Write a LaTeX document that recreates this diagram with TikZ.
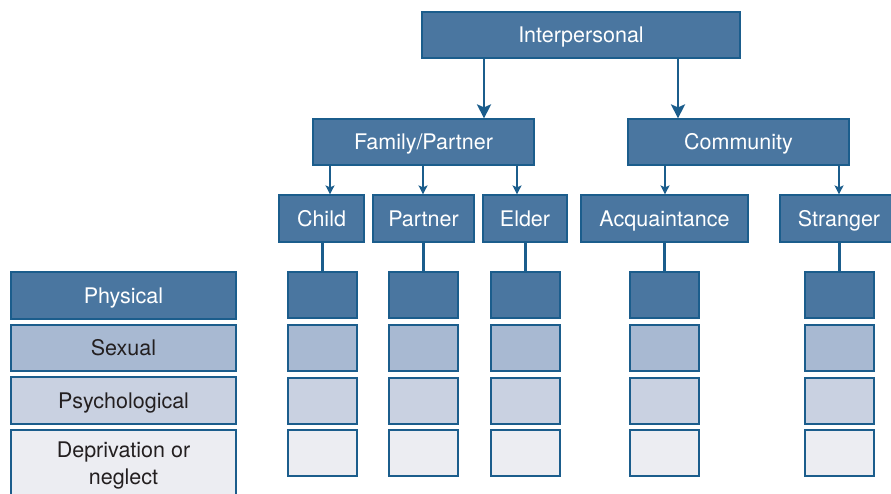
\documentclass[tikz,border=0pt]{standalone}
\usepackage{fontspec}
\setmainfont{TeX Gyre Heros}
\usetikzlibrary{arrows.meta}
\definecolor{bdark}{HTML}{4A76A0}
\definecolor{bmid}{HTML}{A8B9D2}
\definecolor{blight}{HTML}{C9D1E1}
\definecolor{bpale}{HTML}{ECEDF2}
\definecolor{bline}{HTML}{1B5D8C}
\definecolor{txtdark}{HTML}{231F20}
\tikzset{
  box/.style={draw=bline, line width=1.2pt, inner sep=0pt, align=center,
    font=\fontsize{21.5}{27}\selectfont},
  one/.style={text height=15.5pt, text depth=0.5pt},
  darkbox/.style={box, fill=bdark, text=white},
  midbox/.style={box, fill=bmid, text=txtdark},
  lightbox/.style={box, fill=blight, text=txtdark},
  palebox/.style={box, fill=bpale, text=txtdark},
  bigarr/.style={draw=bline, line width=2.6pt, -{Stealth[width=14pt,length=14pt,inset=3pt]}},
  smallarr/.style={draw=bline, line width=1.5pt, -{Stealth[width=9pt,length=9pt,inset=2pt]}},
  link/.style={draw=bline, line width=2.5pt},
}
\begin{document}
\begin{tikzpicture}[x=1pt,y=-1pt]
\useasboundingbox (0,0) rectangle (891,493);
\clip (0,0) rectangle (891,493);
% top levels
\node[darkbox, one, minimum width=318pt, minimum height=46pt] (inter) at (581,35) {Interpersonal};
\node[darkbox, one, minimum width=221pt, minimum height=46pt] (fam) at (423.5,142) {Family/Partner};
\node[darkbox, one, minimum width=221pt, minimum height=46pt] (com) at (738.5,142) {Community};
% third level
\node[darkbox, one, minimum width=85pt, minimum height=47pt] (child) at (321.5,218.5) {Child};
\node[darkbox, one, minimum width=101pt, minimum height=47pt] (partner) at (423.5,218.5) {Partner};
\node[darkbox, one, minimum width=84pt, minimum height=47pt] (elder) at (525,218.5) {Elder};
\node[darkbox, one, minimum width=167pt, minimum height=47pt] (acq) at (664.5,218.5) {Acquaintance};
\node[darkbox, one, minimum width=118pt, minimum height=47pt] (stranger) at (839,218.5) {Stranger};
% left labels
\node[darkbox, one, minimum width=225pt, minimum height=47pt] (lphys) at (123.5,295.5) {Physical};
\node[midbox, one, minimum width=225pt, minimum height=46pt] (lsex) at (123.5,348) {Sexual};
\node[lightbox, one, minimum width=225pt, minimum height=47pt] (lpsy) at (123.5,400.5) {Psychological};
\node[palebox, minimum width=225pt, minimum height=70pt] (ldep) at (123.5,465) {Deprivation or\\neglect};
% grid
\foreach \n/\cx in {child/322.5, partner/423.5, elder/525.5, acq/664.5, stranger/839.5}{
  \node[darkbox, minimum width=69pt, minimum height=46pt] (g-\n-1) at (\cx,295) {};
  \node[midbox, minimum width=69pt, minimum height=46pt] (g-\n-2) at (\cx,348) {};
  \node[lightbox, minimum width=69pt, minimum height=46pt] (g-\n-3) at (\cx,401) {};
  \node[palebox, minimum width=69pt, minimum height=46pt] (g-\n-4) at (\cx,453) {};
}
% arrow x positions
\coordinate (a1) at (484,0);
\coordinate (a2) at (678,0);
\coordinate (b1) at (330,0);
\coordinate (b2) at (423,0);
\coordinate (b3) at (517,0);
\coordinate (b4) at (665,0);
\coordinate (b5) at (839,0);
\draw[bigarr] (inter.south -| a1) -- (fam.north -| a1);
\draw[bigarr] (inter.south -| a2) -- (com.north -| a2);
\draw[smallarr] (fam.south -| b1) -- (child.north -| b1);
\draw[smallarr] (fam.south -| b2) -- (partner.north -| b2);
\draw[smallarr] (fam.south -| b3) -- (elder.north -| b3);
\draw[smallarr] (com.south -| b4) -- (acq.north -| b4);
\draw[smallarr] (com.south -| b5) -- (stranger.north -| b5);
% links to grid
\foreach \n in {child, partner, elder, acq, stranger}{
  \draw[link] (\n.south -| g-\n-1.north) -- (g-\n-1.north);
}
\end{tikzpicture}
\end{document}
